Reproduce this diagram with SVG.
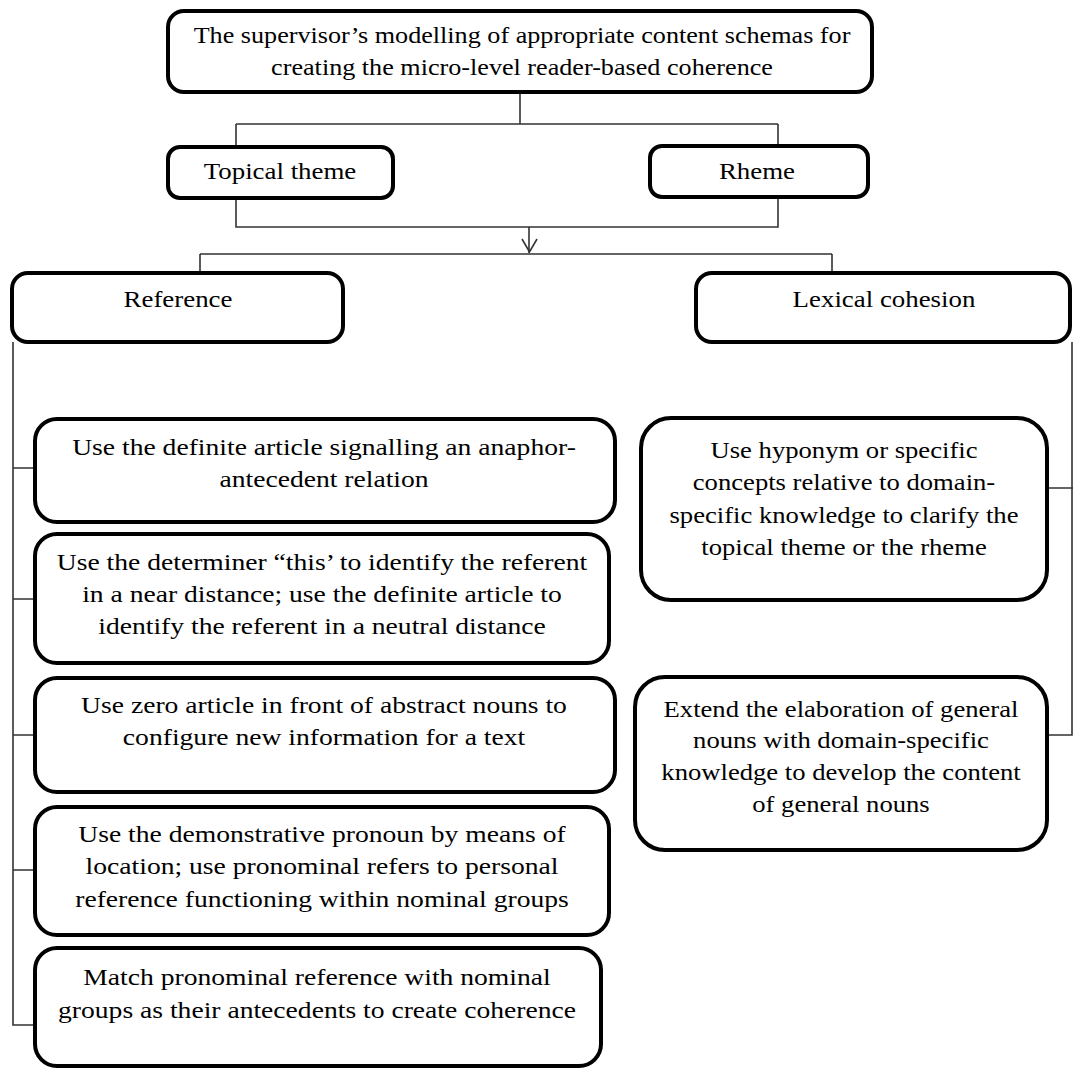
<svg xmlns="http://www.w3.org/2000/svg" width="1073" height="1070" viewBox="0 0 1073 1070">
<style>
.box{fill:#fff;stroke:#000;stroke-width:4}
.c{fill:none;stroke:#333;stroke-width:1.6}
text{font-family:"Liberation Serif","Times New Roman",serif;font-size:24px;fill:#000;text-anchor:middle}
</style>
<rect width="1073" height="1070" fill="#fff"/>
<g id="connectors">
<path class="c" d="M520 92V124M236 124H778M236 124V147M778 124V146"/>
<path class="c" d="M236 198V227H778V197M529 227V253"/>
<polyline class="c" points="522,239 529.5,252 537,239"/>
<path class="c" d="M200 254H832M200 254V273M832 254V273"/>
<path class="c" d="M13 342V1025H35M13 468H35M13 599H35M13 735H35M13 870H35"/>
<path class="c" d="M1072 342V735H1047M1047 488H1073"/>
</g>
<g id="top">
<rect class="box" x="168" y="11" width="704" height="81" rx="16"/>
<g transform="translate(522,0) scale(1.09,1)"><text y="43">The supervisor’s modelling of appropriate content schemas for</text><text y="75">creating the micro-level reader-based coherence</text></g>
</g>
<g id="topical">
<rect class="box" x="168" y="147" width="225" height="51" rx="12"/>
<g transform="translate(280,0) scale(1.12,1)"><text y="179">Topical theme</text></g>
</g>
<g id="rheme">
<rect class="box" x="650" y="146" width="218" height="51" rx="12"/>
<g transform="translate(757,0) scale(1.12,1)"><text y="179">Rheme</text></g>
</g>
<g id="reference">
<rect class="box" x="12" y="273" width="331" height="69" rx="16"/>
<g transform="translate(178,0) scale(1.12,1)"><text y="307">Reference</text></g>
</g>
<g id="lexical">
<rect class="box" x="696" y="273" width="374" height="69" rx="16"/>
<g transform="translate(884,0) scale(1.12,1)"><text y="307">Lexical cohesion</text></g>
</g>
<g id="r1">
<rect class="box" x="35" y="419" width="580" height="103" rx="22"/>
<g transform="translate(324,0) scale(1.15,1)"><text y="455">Use the definite article signalling an anaphor-</text><text y="487">antecedent relation</text></g>
</g>
<g id="r2">
<rect class="box" x="35" y="534" width="574" height="129" rx="22"/>
<g transform="translate(322,0) scale(1.15,1)"><text y="570">Use the determiner “this’ to identify the referent</text><text y="602">in a near distance; use the definite article to</text><text y="634">identify the referent in a neutral distance</text></g>
</g>
<g id="r3">
<rect class="box" x="35" y="678" width="580" height="114" rx="22"/>
<g transform="translate(324,0) scale(1.15,1)"><text y="713">Use zero article in front of abstract nouns to</text><text y="745">configure new information for a text</text></g>
</g>
<g id="r4">
<rect class="box" x="35" y="807" width="574" height="128" rx="22"/>
<g transform="translate(322,0) scale(1.15,1)"><text y="842">Use the demonstrative pronoun by means of</text><text y="874">location; use pronominal refers to personal</text><text y="907">reference functioning within nominal groups</text></g>
</g>
<g id="r5">
<rect class="box" x="35" y="948" width="566" height="118" rx="22"/>
<g transform="translate(317,0) scale(1.15,1)"><text y="985">Match pronominal reference with nominal</text><text y="1018">groups as their antecedents to create coherence</text></g>
</g>
<g id="l1">
<rect class="box" x="641" y="418" width="406" height="182" rx="30"/>
<g transform="translate(844,0) scale(1.11,1)"><text y="458">Use hyponym or specific</text><text y="490">concepts relative to domain-</text><text y="523">specific knowledge to clarify the</text><text y="555">topical theme or the rheme</text></g>
</g>
<g id="l2">
<rect class="box" x="635" y="677" width="412" height="173" rx="30"/>
<g transform="translate(841,0) scale(1.11,1)"><text y="717">Extend the elaboration of general</text><text y="748">nouns with domain-specific</text><text y="780">knowledge to develop the content</text><text y="812">of general nouns</text></g>
</g>
</svg>
